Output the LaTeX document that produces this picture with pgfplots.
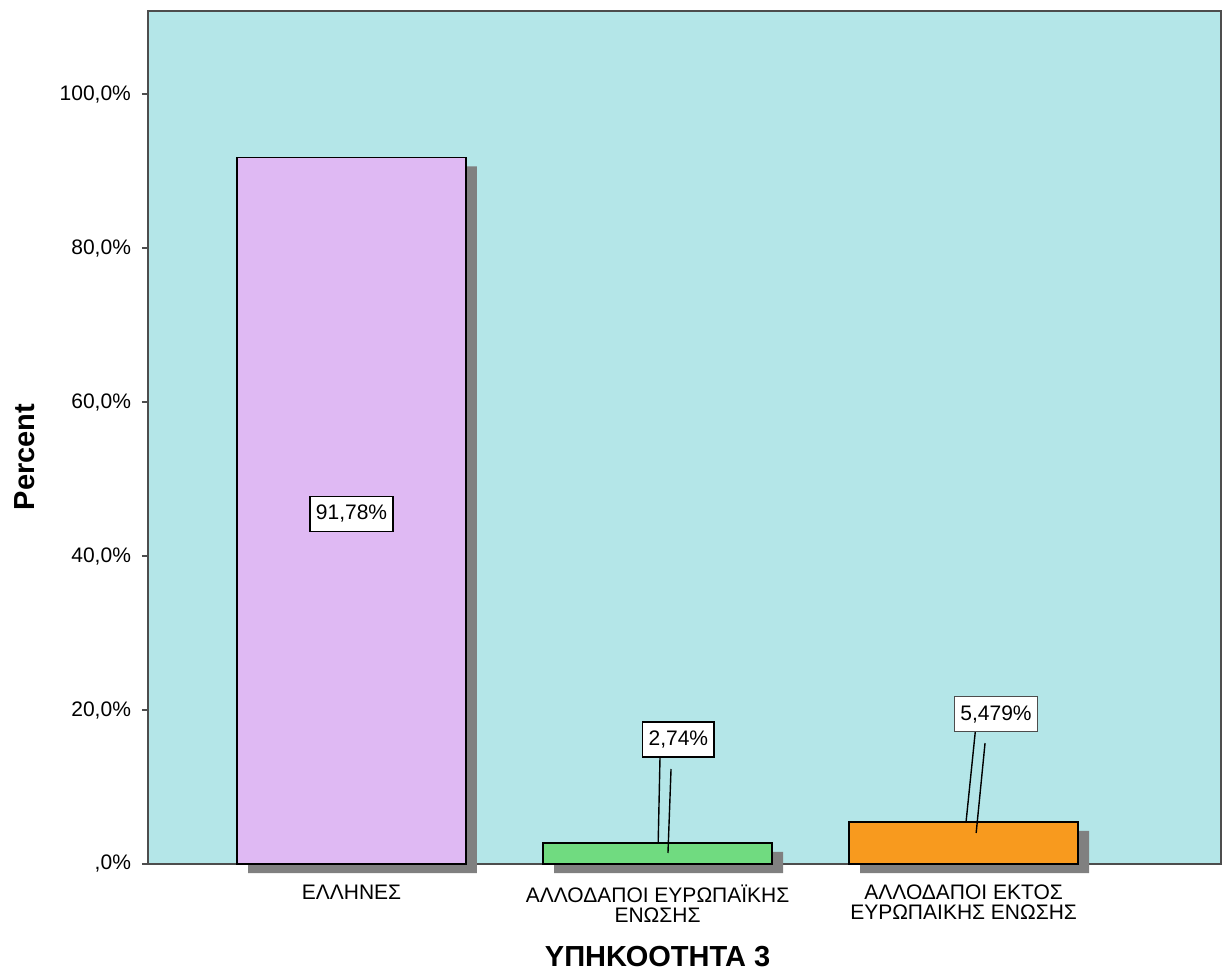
\documentclass[border=0pt]{standalone}
\usepackage{fontspec}
\setmainfont{Liberation Sans}
\usepackage{pgfplots}
\pgfplotsset{compat=1.18}
\definecolor{bgc}{HTML}{B4E6E8}
\definecolor{barA}{HTML}{DFB9F3}
\definecolor{barB}{HTML}{70DB80}
\definecolor{barC}{HTML}{F89A1E}
\definecolor{shad}{HTML}{808080}
\definecolor{frame}{HTML}{4D4D4D}
\begin{document}
\begin{tikzpicture}
\begin{axis}[
  scale only axis,
  width=536.5pt, height=426.5pt,
  xmin=-0.665, xmax=2.841,
  ymin=0, ymax=110.8,
  clip=false,
  axis background/.style={fill=bgc},
  axis line style={draw=frame, line width=1pt},
  tick style={draw=frame, line width=0.8pt},
  tick align=outside, tick pos=left,
  major tick length=3pt,
  xtick={0,1,2},
  xticklabels={ΕΛΛΗΝΕΣ, {ΑΛΛΟΔΑΠΟΙ ΕΥΡΩΠΑΪΚΗΣ\\ΕΝΩΣΗΣ}, {ΑΛΛΟΔΑΠΟΙ ΕΚΤΟΣ\\ΕΥΡΩΠΑΙΚΗΣ ΕΝΩΣΗΣ}},
  xticklabel style={align=center, font=\fontsize{10.5}{10}\selectfont, anchor=north, yshift=-4pt},
  ytick={0,20,40,60,80,100},
  yticklabels={{,0\%},{20,0\%},{40,0\%},{60,0\%},{80,0\%},{100,0\%}},
  yticklabel style={font=\fontsize{10.5}{12}\selectfont, xshift=-2pt},
  xlabel={ΥΠΗΚΟΟΤΗΤΑ 3},
  ylabel={Percent},
  every axis x label/.style={at={(axis cs:1,0)}, anchor=center, yshift=-46.5pt, font=\fontsize{14.5}{16}\selectfont\bfseries},
  every axis y label/.style={at={(rel axis cs:0,0.477)}, anchor=center, xshift=-61.5pt, rotate=90, font=\fontsize{14.5}{16}\selectfont\bfseries},
]
% shadows
\addplot[ybar, bar width=0.748, fill=shad, draw=none, xshift=5.5pt, yshift=-4.5pt] coordinates {(0,91.78) (1,2.74) (2,5.479)};
% bars
\addplot[ybar, bar width=0.748, fill=barA, draw=black, line width=0.8pt] coordinates {(0,91.78)};
\addplot[ybar, bar width=0.748, fill=barB, draw=black, line width=0.8pt] coordinates {(1,2.74)};
\addplot[ybar, bar width=0.748, fill=barC, draw=black, line width=0.8pt] coordinates {(2,5.479)};
% leader lines
\draw[black, line width=0.7pt] (axis cs:1.008,13.9) -- (axis cs:1.002,2.74);
\draw[black, line width=0.7pt] (axis cs:1.044,12.34) -- (axis cs:1.034,1.43);
\draw[black, line width=0.7pt] (axis cs:2.038,17.14) -- (axis cs:2.008,5.479);
\draw[black, line width=0.7pt] (axis cs:2.070,15.71) -- (axis cs:2.041,4.03);
% value labels
\tikzset{vlab/.style={draw=black, fill=white, line width=0.7pt, inner xsep=3pt, minimum height=17.5pt, font=\fontsize{10.5}{12}\selectfont}}
\node[vlab] at (axis cs:0,45.5) {91,78\%};
\node[vlab] at (axis cs:1.068,16.17) {2,74\%};
\node[vlab, draw=frame] at (axis cs:2.106,19.48) {5,479\%};
\end{axis}
\path ([shift={(-74pt,-57pt)}]current axis.south west) rectangle ([shift={(4pt,5.5pt)}]current axis.north east);
\end{tikzpicture}
\end{document}
